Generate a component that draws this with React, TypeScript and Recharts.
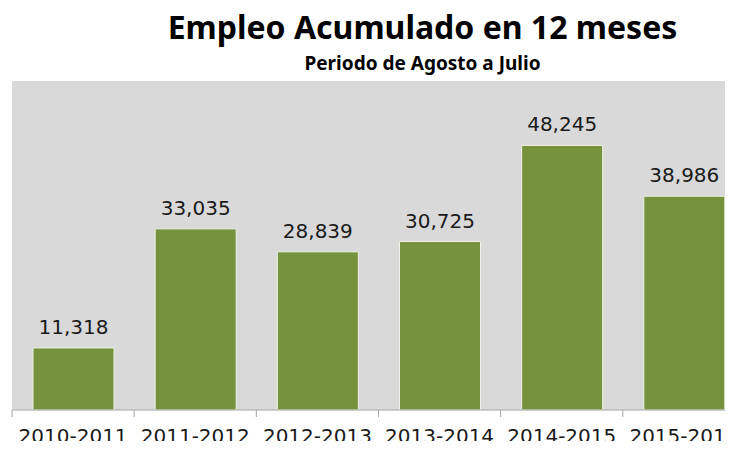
import { Bar, BarChart, CartesianGrid, LabelList, XAxis, YAxis } from "recharts";

const periodos = ["2010-2011", "2011-2012", "2012-2013", "2013-2014", "2014-2015", "2015-2016"];
const empleo = [11318, 33035, 28839, 30725, 48245, 38986];

const CHART_W = 760;
const MARGIN = { top: 81, right: 15, left: 12, bottom: 0 };
const BAND = (CHART_W - MARGIN.left - MARGIN.right) / periodos.length;

const data = periodos.map((p, i) => ({ periodo: p, empleo: empleo[i] }));

function PeriodoTick(props: any) {
  const { x, y, payload } = props;
  const left = x - BAND / 2;
  return (
    <g>
      <line x1={left} x2={left} y1={y - 8} y2={y - 1} stroke="#a6a6a6" strokeWidth={1} />
      <text
        x={x}
        y={y + 25}
        textAnchor="middle"
        fill="#1a1a1a"
        style={{ fontFamily: "DejaVu Sans", fontSize: 20 }}
      >
        {payload.value}
      </text>
    </g>
  );
}

export default function App() {
  return (
    <div style={{ margin: -8, width: 733, height: 449, overflow: "hidden", position: "relative", background: "#fff" }}>
      <div
        style={{
          position: "absolute",
          top: 7,
          left: 0,
          width: 845,
          textAlign: "center",
          fontFamily: "'Noto Sans', sans-serif",
          fontWeight: 700,
          fontSize: 32,
          color: "#000",
          lineHeight: "40px",
        }}
      >
        Empleo Acumulado en 12 meses
      </div>
      <div
        style={{
          position: "absolute",
          top: 50,
          left: 0,
          width: 845,
          textAlign: "center",
          fontFamily: "'Noto Sans', sans-serif",
          fontWeight: 700,
          fontSize: 19,
          color: "#000",
          lineHeight: "26px",
        }}
      >
        Periodo de Agosto a Julio
      </div>
      <BarChart width={CHART_W} height={449} data={data} margin={MARGIN}>
        <CartesianGrid fill="#d9d9d9" horizontal={false} vertical={false} stroke="none" />
        <XAxis
          dataKey="periodo"
          height={39}
          tickLine={false}
          axisLine={{ stroke: "#a6a6a6" }}
          tick={<PeriodoTick />}
          interval={0}
        />
        <YAxis hide domain={[0, 60000]} />
        <Bar dataKey="empleo" fill="#76923c" stroke="#eef2e6" strokeWidth={1} barSize={81} isAnimationActive={false}>
          <LabelList
            dataKey="empleo"
            position="top"
            offset={14}
            formatter={(v: any) => Number(v).toLocaleString("en-US")}
            style={{ fontFamily: "DejaVu Sans", fontSize: 20, fill: "#1a1a1a" }}
          />
        </Bar>
      </BarChart>
    </div>
  );
}
